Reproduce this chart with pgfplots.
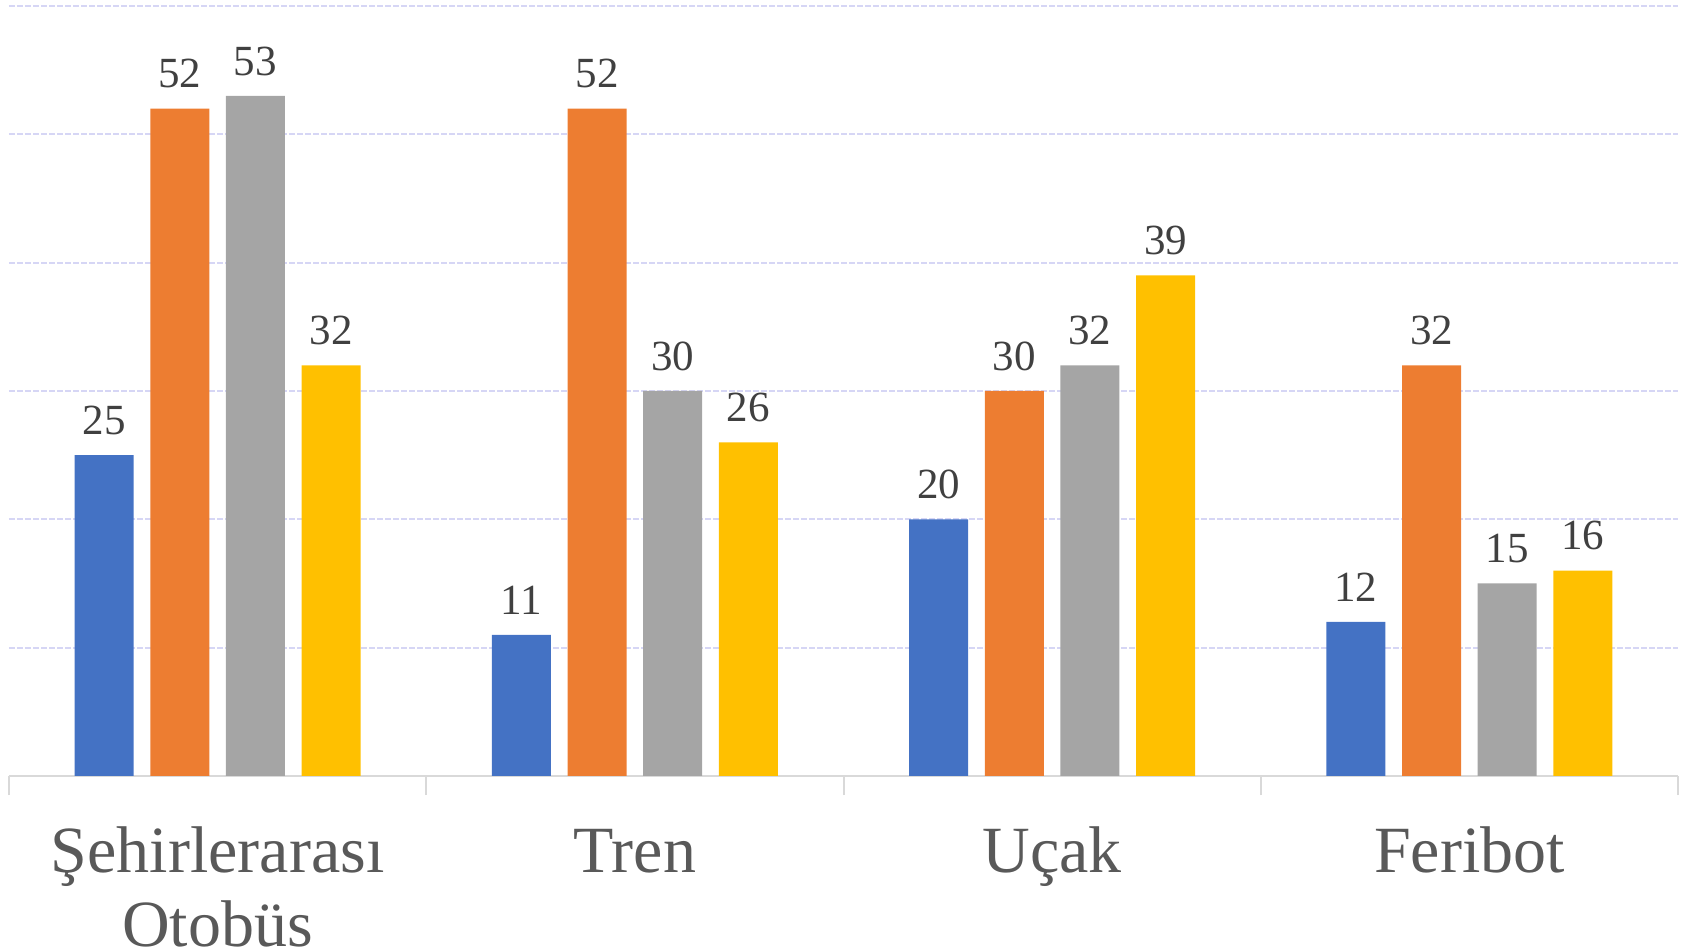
\documentclass[border=0pt]{standalone}
\usepackage{fontspec}
\setmainfont{Liberation Serif}
\usepackage{pgfplots}
\pgfplotsset{compat=1.18}
\definecolor{cBlue}{HTML}{4472C4}
\definecolor{cOrange}{HTML}{ED7D31}
\definecolor{cGray}{HTML}{A5A5A5}
\definecolor{cYellow}{HTML}{FFC000}
\definecolor{gridc}{HTML}{D6D6F5}
\definecolor{axc}{HTML}{D9D9D9}
\definecolor{lab}{HTML}{595959}
\definecolor{dlab}{HTML}{404040}
\begin{document}
\begin{tikzpicture}
\begin{axis}[
  name=ax,
  scale only axis,
  width=834.5pt, height=385pt,
  ymin=0, ymax=60,
  xmin=-0.5, xmax=3.5,
  ybar=8.35pt, bar width=29.5pt,
  axis lines*=left,
  y axis line style={draw=none},
  x axis line style={draw=axc, line width=1pt},
  ytick={10,20,30,40,50,60},
  yticklabels={},
  ytick style={draw=none},
  ymajorgrids,
  major grid style={draw=gridc, line width=0.9pt, dash pattern=on 3pt off 1pt},
  xtick={0,1,2,3},
  xticklabels={{\setlength{\tabcolsep}{0pt}\begin{tabular}[t]{c}Şehirlerarası\\Otobüs\end{tabular}},Tren,Uçak,Feribot},
  major x tick style={draw=none},
  minor xtick={-0.5,0.5,1.5,2.5,3.5},
  minor x tick style={draw=axc, line width=1pt},
  tick align=outside,
  minor tick length=9.5pt,
  major tick length=0pt,
  xticklabel style={font=\fontsize{33}{37}\selectfont, text=lab, anchor=base, yshift=-48pt, inner sep=0pt},
  /pgf/number format/assume math mode=true,
  nodes near coords,
  every node near coord/.append style={font=\fontsize{21.5}{24}\selectfont, text=dlab, inner sep=0pt, yshift=10pt},
  clip=false,
]
\addplot[fill=cBlue, draw=none] coordinates {(0,25) (1,11) (2,20) (3,12)};
\addplot[fill=cOrange, draw=none] coordinates {(0,52) (1,52) (2,30) (3,32)};
\addplot[fill=cGray, draw=none] coordinates {(0,53) (1,30) (2,32) (3,15)};
\addplot[fill=cYellow, draw=none] coordinates {(0,32) (1,26) (2,39) (3,16)};
\end{axis}
\pgfresetboundingbox
\path[use as bounding box] ([shift={(-4.5pt,-87.5pt)}]ax.south west) rectangle ([shift={(5.5pt,3pt)}]ax.north east);
\end{tikzpicture}
\end{document}
